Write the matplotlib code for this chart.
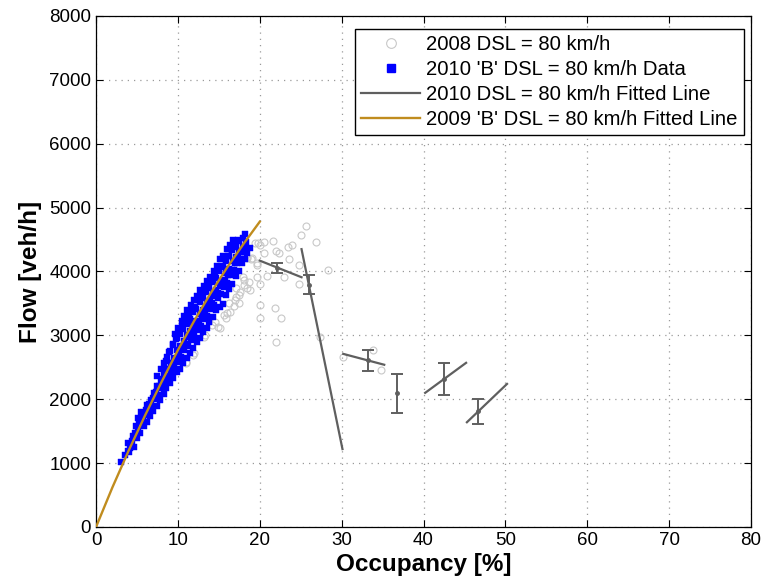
import matplotlib
matplotlib.use("Agg")
import matplotlib.pyplot as plt
from matplotlib.lines import Line2D

plt.rcParams['font.family'] = ['Liberation Sans', 'DejaVu Sans']

# ---- 2008 DSL = 80 km/h (grey open circles) ----
occ_2008 = [25.65, 25.08, 26.87, 21.57, 20.51, 19.78, 19.37, 20.06, 21.98, 22.35,
            23.49, 23.9, 20.55, 18.92, 23.61, 24.83, 28.38, 20.88, 22.91, 24.79,
            19.65, 19.98, 18.1, 18.63, 17.09, 17.41, 16.88, 17.49, 15.99, 15.58,
            15.09, 15.82, 14.47, 20.06, 21.9, 22.59, 19.98, 22.02, 13.13, 11.99,
            10.97, 17.13, 17.94, 18.43, 27.32, 30.13, 33.85, 34.86, 18.43, 18.0,
            19.04, 19.65, 18.84, 14.15, 13.33, 18.43, 19.65, 18.02, 17.61, 17.0,
            16.39, 11.9, 11.0, 16.2, 14.9]
flow_2008 = [4712, 4571, 4467, 4483, 4462, 4441, 4451, 4410, 4326, 4295,
             4389, 4415, 4295, 4201, 4196, 4102, 4023, 3934, 3909, 3804,
             3919, 3804, 3867, 3841, 3606, 3632, 3460, 3502, 3355, 3319,
             3111, 3277, 3214, 3476, 3424, 3267, 3267, 2892, 2979, 2719,
             2588, 3737, 3919, 3737, 2980, 2666, 2771, 2453, 4206, 4258,
             4206, 4102, 3710, 3162, 3000, 4232, 4128, 3789, 3684, 3554,
             3371, 2700, 2560, 3500, 3130]

# ---- 2010 'B' DSL = 80 km/h Data (blue squares) ----
occ_2010b = [3.1,
             3.55, 3.85,
             4.05, 4.2, 3.95,
             4.6, 4.35, 4.5,
             5.0, 4.75, 4.9,
             5.35, 5.15, 5.3, 5.1,
             5.8, 5.55, 5.7, 5.45,
             6.2, 5.95, 6.05, 6.25,
             6.55, 6.35, 6.5, 6.7,
             7.0, 6.75, 6.9, 7.05,
             7.4, 7.15, 7.3, 7.45,
             7.85, 7.55, 7.65, 7.9, 7.45,
             8.25, 7.95, 8.1, 8.35, 7.9,
             8.6, 8.35, 8.45, 8.7, 8.25, 8.5,
             9.05, 8.8, 8.9, 9.1, 8.65, 8.95,
             9.45, 9.15, 9.3, 9.5, 9.05, 9.35,
             9.85, 9.55, 9.7, 9.9, 9.45, 9.75, 9.6,
             10.25, 9.95, 10.1, 10.3, 9.85, 10.15, 10.0,
             10.65, 10.35, 10.5, 10.7, 10.25, 10.55, 10.45,
             11.05, 10.8, 10.9, 11.1, 10.65, 10.95, 10.7,
             11.5, 11.2, 11.35, 11.45, 11.05, 11.3, 11.15,
             11.85, 11.6, 11.75, 11.9, 11.45, 11.7, 11.55,
             12.3, 12.0, 12.15, 12.25, 11.85, 12.1, 11.95,
             12.65, 12.45, 12.55, 12.7, 12.25, 12.5, 12.35,
             13.1, 12.8, 12.95, 13.05, 12.65, 12.9, 12.75,
             13.5, 13.25, 13.35, 13.5, 13.05, 13.3, 13.15,
             13.85, 13.6, 13.75, 13.9, 13.45, 13.7, 13.55,
             14.3, 14.0, 14.15, 14.3, 13.85, 14.1, 13.95,
             14.65, 14.4, 14.55, 14.7, 14.25, 14.5, 14.35,
             15.1, 14.85, 14.95, 15.1, 14.65, 14.9, 14.75,
             15.45, 15.25, 15.35, 15.5, 15.05, 15.3, 15.15,
             15.9, 15.6, 15.75, 15.9, 15.45, 15.7, 15.55,
             16.3, 16.05, 16.15, 16.3, 15.85, 16.1, 15.95,
             16.65, 16.4, 16.55, 16.7, 16.25, 16.5, 16.35,
             17.05, 16.8, 16.95, 17.1, 16.65, 16.9, 16.75,
             17.45, 17.2, 17.35, 17.5, 17.1, 17.3,
             17.85, 17.6, 17.75, 17.9, 17.5,
             18.25, 18.0, 18.15, 18.3, 17.95,
             18.5, 18.3, 18.25,
             18.8]
flow_2010b = [1020,
              1120, 1190,
              1170, 1240, 1310,
              1250, 1350, 1430,
              1400, 1470, 1580,
              1470, 1540, 1640, 1700,
              1580, 1650, 1740, 1800,
              1650, 1760, 1830, 1910,
              1740, 1800, 1930, 1990,
              1820, 1890, 2020, 2090,
              1900, 2000, 2120, 2210,
              1990, 2060, 2200, 2280, 2370,
              2080, 2170, 2310, 2390, 2480,
              2170, 2250, 2370, 2470, 2560, 2600,
              2250, 2330, 2470, 2560, 2660, 2740,
              2330, 2420, 2570, 2650, 2750, 2850,
              2420, 2500, 2630, 2770, 2870, 2950, 3020,
              2470, 2590, 2710, 2830, 2960, 3050, 3110,
              2570, 2660, 2810, 2910, 3020, 3150, 3220,
              2650, 2770, 2870, 3010, 3100, 3210, 3310,
              2730, 2830, 2970, 3070, 3180, 3310, 3390,
              2810, 2930, 3030, 3170, 3260, 3390, 3470,
              2890, 2990, 3130, 3230, 3360, 3450, 3550,
              2960, 3090, 3190, 3330, 3420, 3550, 3610,
              3050, 3150, 3290, 3390, 3520, 3610, 3710,
              3110, 3250, 3350, 3490, 3580, 3710, 3770,
              3210, 3310, 3450, 3550, 3680, 3770, 3850,
              3290, 3420, 3510, 3650, 3740, 3870, 3920,
              3390, 3480, 3610, 3710, 3840, 3930, 4010,
              3450, 3580, 3670, 3810, 3900, 4030, 4080,
              3490, 3640, 3780, 3870, 4000, 4090, 4190,
              3630, 3760, 3850, 3980, 4070, 4190, 4250,
              3730, 3820, 3950, 4040, 4170, 4250, 4350,
              3810, 3940, 4030, 4160, 4240, 4350, 4410,
              3930, 4020, 4140, 4220, 4340, 4410, 4490,
              4010, 4130, 4210, 4320, 4390, 4490,
              4130, 4200, 4310, 4380, 4480,
              4190, 4300, 4370, 4460, 4530,
              4290, 4360, 4590,
              4370]

# ---- 2010 DSL = 80 km/h Fitted Line (segments) ----
seg_occ_start = [20.0, 25.1, 30.2, 40.2, 45.3]
seg_occ_end = [25.1, 30.1, 35.2, 45.2, 50.2]
seg_flow_start = [4170, 4350, 2710, 2100, 1640]
seg_flow_end = [3910, 1220, 2540, 2570, 2240]

# error bars on fitted line
err_occ = [22.1, 26.0, 33.2, 36.7, 42.5, 46.6]
err_flow = [4060, 3790, 2610, 2090, 2320, 1810]
err_half = [80, 150, 165, 300, 250, 190]

# ---- 2009 'B' DSL = 80 km/h Fitted Line ----
fit09_occ = [0, 2, 4, 6, 8, 10, 12, 14, 16, 18, 20]
fit09_flow = [0, 620, 1200, 1750, 2270, 2770, 3230, 3660, 4060, 4430, 4780]

fig = plt.figure(figsize=(7.64, 5.86), dpi=100)
ax = fig.add_axes([0.1257, 0.1007, 0.8573, 0.872])

grey_line = '#5f5f5f'
gold = '#c08c1e'

ax.plot(occ_2008, flow_2008, linestyle='none', marker='o', markersize=5,
        markerfacecolor='none', markeredgecolor='#c8c8c8', markeredgewidth=0.8, zorder=2)
ax.plot(occ_2010b, flow_2010b, linestyle='none', marker='s', markersize=4.0,
        markerfacecolor='#0000ff', markeredgecolor='#0000ff', markeredgewidth=0.3, zorder=3)
for xs, xe, ys, ye in zip(seg_occ_start, seg_occ_end, seg_flow_start, seg_flow_end):
    ax.plot([xs, xe], [ys, ye], color=grey_line, linewidth=1.6, zorder=4)
ax.errorbar(err_occ, err_flow, yerr=err_half, fmt='o', markersize=2.5, color=grey_line,
            ecolor=grey_line, elinewidth=1.4, capsize=4, capthick=1.4, zorder=5)
ax.plot(fit09_occ, fit09_flow, color=gold, linewidth=1.7, zorder=6)

ax.set_xlim(0, 80)
ax.set_ylim(0, 8000)
ax.set_xticks(range(0, 81, 10))
ax.set_yticks(range(0, 8001, 1000))
ax.grid(True, linestyle=(0, (1, 4)), color='#9a9a9a', linewidth=0.9)
ax.set_axisbelow(True)
ax.tick_params(direction='in', top=True, right=True, labelsize=13.5, length=5, width=0.8)
for s in ax.spines.values():
    s.set_linewidth(0.9)
ax.set_xlabel('Occupancy [%]', fontsize=17.5, fontweight='bold', labelpad=3)
ax.set_ylabel('Flow [veh/h]', fontsize=17.5, fontweight='bold', labelpad=5)

handles = [
    Line2D([], [], linestyle='none', marker='o', markersize=7, markerfacecolor='none',
           markeredgecolor='#c8c8c8', markeredgewidth=0.8),
    Line2D([], [], linestyle='none', marker='s', markersize=6, markerfacecolor='#0000ff',
           markeredgecolor='#0000ff'),
    Line2D([], [], color=grey_line, linewidth=1.6),
    Line2D([], [], color=gold, linewidth=1.7),
]
labels = ["2008 DSL = 80 km/h", "2010 'B' DSL = 80 km/h Data",
          "2010 DSL = 80 km/h Fitted Line", "2009 'B' DSL = 80 km/h Fitted Line"]
leg = ax.legend(handles, labels, loc='upper right', bbox_to_anchor=(0.989, 0.975),
                fontsize=14.6, frameon=True, fancybox=False, framealpha=1,
                edgecolor='black', handlelength=2.9, handletextpad=0.3,
                borderpad=0.3, labelspacing=0.3, borderaxespad=0)
leg.get_frame().set_linewidth(1.0)

fig.savefig('out.png', dpi=100)
